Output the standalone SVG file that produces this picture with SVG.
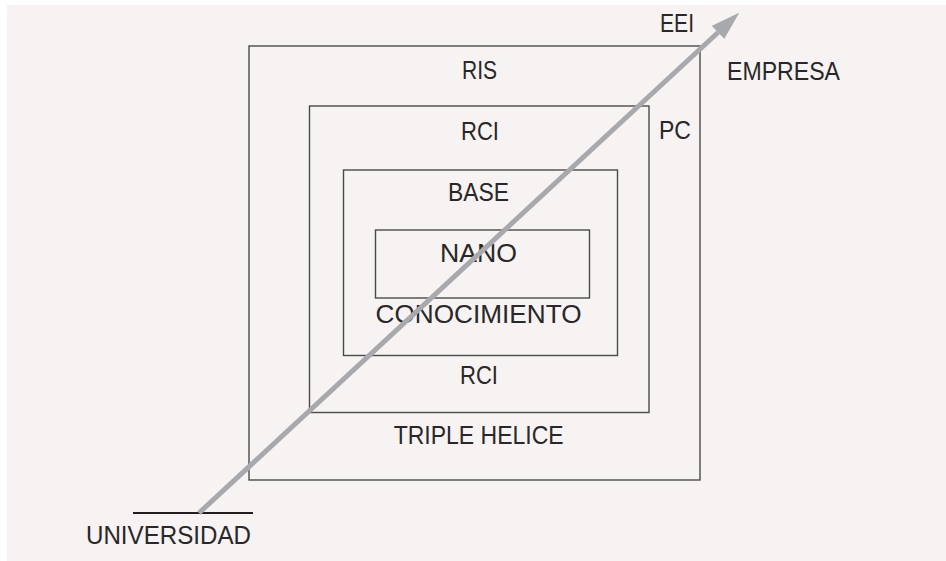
<svg xmlns="http://www.w3.org/2000/svg" width="946" height="561" viewBox="0 0 946 561">
  <style>
    .box { fill: none; stroke: #4a4a4a; stroke-width: 1.4; }
    .lbl { font-family: "Liberation Sans", Arial, sans-serif; font-size: 25px; fill: #2a2728; text-anchor: middle; }
    .conn { stroke: #a7a9ac; stroke-width: 5; fill: none; }
  </style>
  <defs>
    <marker id="ah" markerUnits="userSpaceOnUse" viewBox="0 0 29 18" markerWidth="29" markerHeight="18" refX="0" refY="9" orient="auto">
      <path d="M0,0 L29,9 L0,18 z" fill="#a7a9ac"/>
    </marker>
  </defs>
  <rect x="0" y="0" width="946" height="561" fill="#ffffff"/>
  <rect x="7" y="5" width="939" height="556" fill="#f6f3f2"/>

  <g id="triple-helice">
    <rect class="box" x="249" y="46" width="451" height="434"/>
    <text class="lbl" x="479.5" y="79" textLength="35" lengthAdjust="spacingAndGlyphs">RIS</text>
    <text class="lbl" x="478.7" y="444" textLength="170" lengthAdjust="spacingAndGlyphs">TRIPLE HELICE</text>
  </g>
  <g id="rci">
    <rect class="box" x="309.5" y="106" width="339.5" height="306.5"/>
    <text class="lbl" x="480" y="140" textLength="38" lengthAdjust="spacingAndGlyphs">RCI</text>
    <text class="lbl" x="479" y="384" textLength="38" lengthAdjust="spacingAndGlyphs">RCI</text>
  </g>
  <g id="base">
    <rect class="box" x="343.5" y="170" width="274" height="185.5"/>
    <text class="lbl" x="478.5" y="201" textLength="61" lengthAdjust="spacingAndGlyphs">BASE</text>
    <text class="lbl" x="478.5" y="322.5" textLength="206" lengthAdjust="spacingAndGlyphs">CONOCIMIENTO</text>
  </g>
  <g id="nano">
    <rect class="box" x="375.5" y="230" width="214" height="68" stroke="#333"/>
    <text class="lbl" x="478.5" y="261.5" textLength="77" lengthAdjust="spacingAndGlyphs">NANO</text>
  </g>
  <g id="eei">
    <text class="lbl" x="677" y="32" textLength="34" lengthAdjust="spacingAndGlyphs">EEI</text>
  </g>
  <g id="empresa">
    <text class="lbl" x="783.5" y="80" textLength="113" lengthAdjust="spacingAndGlyphs">EMPRESA</text>
  </g>
  <g id="pc">
    <text class="lbl" x="675" y="139" textLength="32" lengthAdjust="spacingAndGlyphs">PC</text>
  </g>
  <g id="universidad">
    <line x1="133" y1="513" x2="253" y2="513" stroke="#231f20" stroke-width="2"/>
    <text class="lbl" x="168.5" y="544" textLength="165" lengthAdjust="spacingAndGlyphs">UNIVERSIDAD</text>
  </g>

  <g id="connectors">
    <line class="conn" x1="199" y1="513" x2="718" y2="32.5" marker-end="url(#ah)"/>
  </g>
</svg>
